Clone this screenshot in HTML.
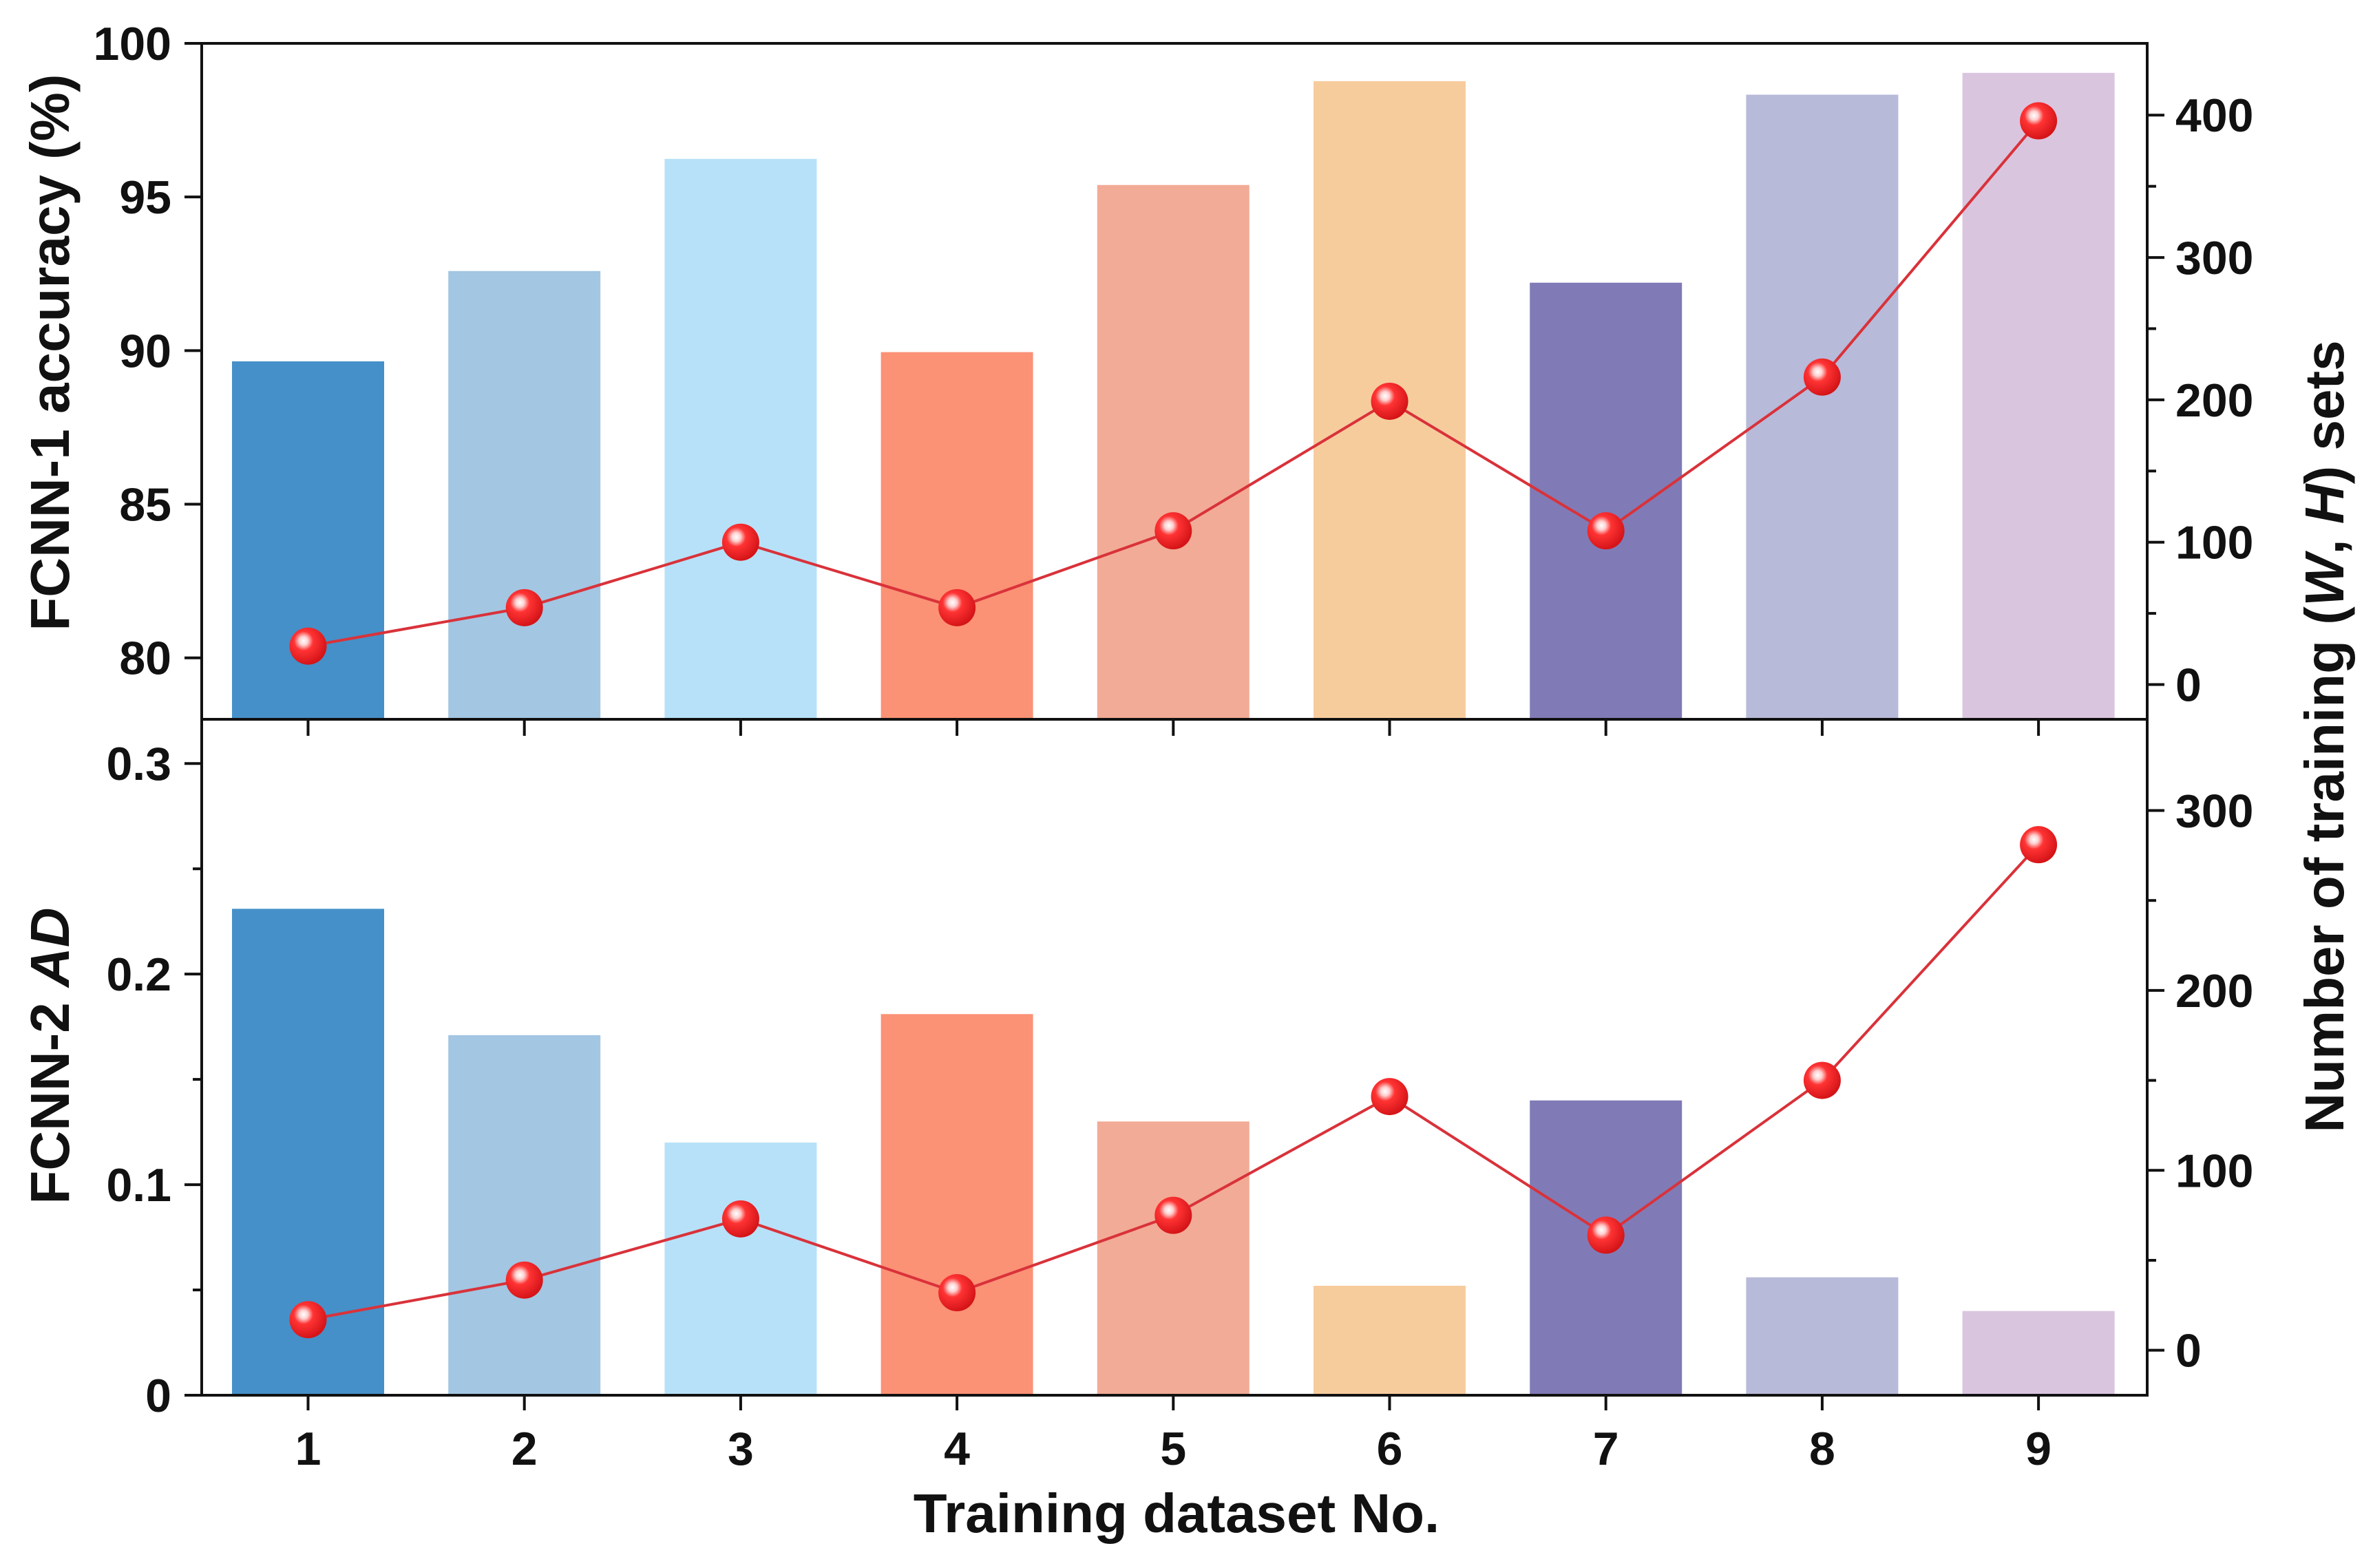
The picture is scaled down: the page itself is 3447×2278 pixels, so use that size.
<!DOCTYPE html>
<html><head><meta charset="utf-8">
<style>
html,body{margin:0;padding:0;background:#fff;}
svg{display:block;font-family:"Liberation Sans",Arial,sans-serif;font-weight:bold;}
</style></head>
<body>
<svg id="chart" width="3447" height="2278" viewBox="0 0 3447 2278" xmlns="http://www.w3.org/2000/svg">
<defs>
<radialGradient id="ball" cx="0.38" cy="0.36" r="0.65">
<stop offset="0" stop-color="#ffffff"/>
<stop offset="0.18" stop-color="#ffd0d0"/>
<stop offset="0.4" stop-color="#f33"/>
<stop offset="1" stop-color="#d41418"/>
</radialGradient>
</defs>
<g id="layer"></g>
</svg>
<script>
const categories = [1,2,3,4,5,6,7,8,9];
const accuracyValues = [89.65, 92.59, 96.24, 89.95, 95.39, 98.77, 92.21, 98.33, 99.04];
const topCountValues = [27, 54, 100, 54, 108, 199, 108, 216, 396];
const adValues = [0.231, 0.171, 0.120, 0.181, 0.130, 0.052, 0.140, 0.056, 0.040];
const bottomCountValues = [17, 39, 73, 32, 75, 141, 64, 150, 281];
const barColors = ["#4590c8","#a3c6e2","#b7e1f8","#fb9175","#f2ab96","#f7cc9d","#807bb6","#b8bad9","#dac5df"];
const topLeftTicks = [80, 85, 90, 95, 100];
const topRightTicks = [0, 100, 200, 300, 400];
const bottomLeftTicks = [0, 0.1, 0.2, 0.3];
const bottomRightTicks = [0, 100, 200, 300];

const NS = "http://www.w3.org/2000/svg";
const layer = document.getElementById("layer");
function mk(tag, attrs, parent){
  const e = document.createElementNS(NS, tag);
  for (const k in attrs) e.setAttribute(k, attrs[k]);
  (parent||layer).appendChild(e);
  return e;
}
const X0 = 293, X1 = 3119;
const xScale = i => 447.5 + (i-1)*314.2;
const BW = 221;
const topY0 = 63, topY1 = 1045, botY0 = 1045, botY1 = 2027;
const lin = (d0,d1,r0,r1) => v => r0 + (v-d0)/(d1-d0)*(r1-r0);
const yAcc = lin(78, 100, topY1, topY0);
const yTopCnt = lin(-24.4, 450.4, topY1, topY0);
const yAD = lin(0, 0.321, botY1, botY0);
const yBotCnt = lin(-25, 350.7, botY1, botY0);

function panel(vals, yL, cnts, yR, y0, y1, prefix){
  categories.forEach((c,i)=>{
    const x = xScale(c);
    const yt = yL(vals[i]);
    const r = mk("rect",{x:x-BW/2,y:yt,width:BW,height:y1-yt,fill:barColors[i]});
    
    
  });
  let pts = categories.map((c,i)=>xScale(c)+","+yR(cnts[i])).join(" ");
  const pl = mk("polyline",{points:pts,fill:"none",stroke:"#d9323a","stroke-width":4});
  
  
  categories.forEach((c,i)=>{
    const m = mk("ellipse",{cx:xScale(c),cy:yR(cnts[i]),rx:27,ry:27,fill:"url(#ball)"});
    
    
  });
}
panel(accuracyValues, yAcc, topCountValues, yTopCnt, topY0, topY1, "top");
panel(adValues, yAD, bottomCountValues, yBotCnt, botY0, botY1, "bottom");

// frames
const ax = {stroke:"#111","stroke-width":4,fill:"none"};
mk("rect",Object.assign({x:X0,y:topY0,width:X1-X0,height:botY1-topY0},ax));
const mid = mk("line",Object.assign({x1:X0,y1:topY1,x2:X1,y2:topY1},ax));


function txt(s,x,y,anchor,size,name){
  const t = mk("text",{x:x,y:y,"text-anchor":anchor,"font-size":size,fill:"#111"});
  t.textContent = s;
  
  
  return t;
}
// left ticks
topLeftTicks.forEach(v=>{const y=yAcc(v);mk("line",Object.assign({x1:X0-25,y1:y,x2:X0,y2:y},ax));txt(String(v),249,y+24,"end",68,"top-left-tick-label");});
bottomLeftTicks.forEach(v=>{const y=yAD(v);mk("line",Object.assign({x1:X0-25,y1:y,x2:X0,y2:y},ax));txt(String(v),249,y+24,"end",68,"bottom-left-tick-label");});
[0.05,0.15,0.25].forEach(v=>{const y=yAD(v);mk("line",Object.assign({x1:X0-13,y1:y,x2:X0,y2:y},ax));});
// right ticks
topRightTicks.forEach(v=>{const y=yTopCnt(v);mk("line",Object.assign({x1:X1,y1:y,x2:X1+25,y2:y},ax));txt(String(v),3160,y+24,"start",68,"top-right-tick-label");});
[50,150,250,350].forEach(v=>{const y=yTopCnt(v);mk("line",Object.assign({x1:X1,y1:y,x2:X1+13,y2:y},ax));});
bottomRightTicks.forEach(v=>{const y=yBotCnt(v);mk("line",Object.assign({x1:X1,y1:y,x2:X1+25,y2:y},ax));txt(String(v),3160,y+24,"start",68,"bottom-right-tick-label");});
[50,150,250].forEach(v=>{const y=yBotCnt(v);mk("line",Object.assign({x1:X1,y1:y,x2:X1+13,y2:y},ax));});
// x ticks
categories.forEach(c=>{const x=xScale(c);
  mk("line",Object.assign({x1:x,y1:topY1,x2:x,y2:topY1+24},ax));
  mk("line",Object.assign({x1:x,y1:botY1,x2:x,y2:botY1+22},ax));
  txt(String(c),x,2128,"middle",68,"x-tick-label");
});
// titles
txt("Training dataset No.",1709,2226,"middle",80,"x-axis-title");
const t1 = txt("FCNN-1 accuracy (%)",0,0,"middle",80,"top-y-axis-title");
t1.setAttribute("transform","translate(100,512) rotate(-90)");
const t2 = txt("",0,0,"middle",80,"bottom-y-axis-title");
t2.innerHTML = 'FCNN-2 <tspan font-style="italic">AD</tspan>';
t2.setAttribute("transform","translate(100,1534) rotate(-90)");
const t3 = txt("",0,0,"middle",80,"right-y-axis-title");
t3.innerHTML = 'Number of training (<tspan font-style="italic">W</tspan>, <tspan font-style="italic">H</tspan>) sets';
t3.setAttribute("transform","translate(3404,1070) rotate(-90)");
</script>
</body></html>
